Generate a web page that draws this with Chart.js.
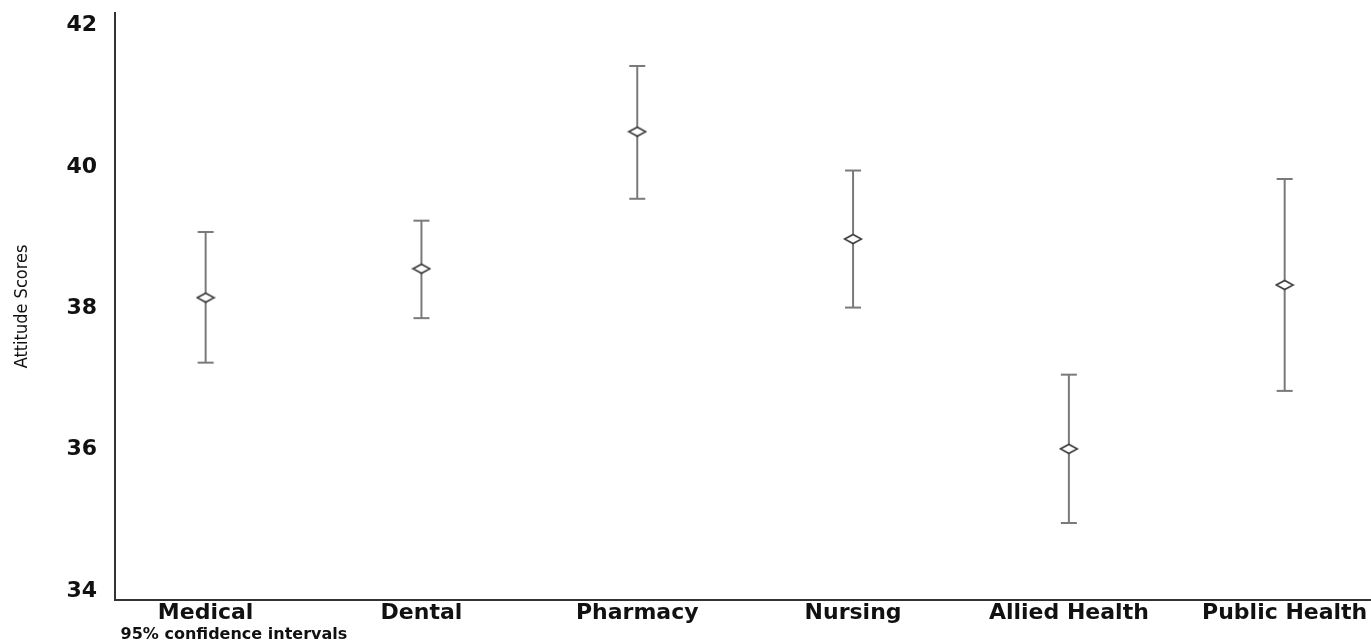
<!DOCTYPE html>
<html>
<head>
<meta charset="utf-8">
<script src="https://cdn.jsdelivr.net/npm/chart.js@4/dist/chart.umd.min.js"></script>
<style>
  body { margin: 0; background: #fff; }
  canvas { display: block; }
</style>
</head>
<body>
<canvas id="ciChart" width="1371" height="644"></canvas>
<script>
/* data */
const groups = ["Medical", "Dental", "Pharmacy", "Nursing", "Allied Health", "Public Health"];
const means = [38.15, 38.56, 40.50, 38.98, 36.01, 38.33];
const lower = [37.23, 37.86, 39.55, 38.01, 34.96, 36.83];
const upper = [39.08, 39.24, 41.43, 39.95, 37.06, 39.83];
const yTicks = [34, 36, 38, 40, 42];

const axisColor = "#333";
const barColor = "#7a7a7a";

/* flattened open diamond marker */
const diamond = document.createElement("canvas");
diamond.width = 20;
diamond.height = 12;
const dctx = diamond.getContext("2d");
dctx.beginPath();
dctx.moveTo(1.5, 6);
dctx.lineTo(10, 1.5);
dctx.lineTo(18.5, 6);
dctx.lineTo(10, 10.5);
dctx.closePath();
dctx.fillStyle = "#fff";
dctx.fill();
dctx.lineWidth = 1.6;
dctx.strokeStyle = "#3a3a3a";
dctx.stroke();

/* mean markers first so they are drawn on top */
const datasets = [{
    label: "Mean",
    data: means.map((m, i) => ({ x: i, y: m })),
    showLine: false,
    pointStyle: diamond,
    pointRadius: 8
}];

/* one whisker per group, caps come from the "line" point style */
groups.forEach((g, i) => {
    datasets.push({
        label: g + " CI",
        data: [{ x: i, y: lower[i] }, { x: i, y: upper[i] }],
        showLine: true,
        borderColor: barColor,
        borderWidth: 2,
        pointStyle: "line",
        pointRadius: 8,
        pointBorderColor: barColor,
        pointBorderWidth: 2
    });
});

new Chart(
    document.getElementById("ciChart"),
    {
        type: "scatter",

        data: { datasets: datasets },

        options: {
            responsive: false,
            animation: false,
            events: [],
            layout: {
                autoPadding: false,
                padding: { top: 13, right: 0, bottom: 0, left: 0 }
            },
            plugins: {
                legend: { display: false },
                tooltip: { enabled: false }
            },
            scales: {
                x: {
                    type: "linear",
                    min: -0.42,
                    max: 5.40,
                    afterBuildTicks: s => {
                        s.ticks = groups.map((g, i) => ({ value: i }));
                    },
                    afterFit: s => {
                        s.height = 44;
                        s.paddingLeft = 0;
                        s.paddingRight = 0;
                    },
                    grid: { drawOnChartArea: false, drawTicks: false },
                    border: { display: true, color: axisColor, width: 2 },
                    ticks: {
                        autoSkip: false,
                        maxRotation: 0,
                        padding: 0,
                        color: "#111",
                        font: { family: "DejaVu Sans", size: 22, weight: "bold" },
                        callback: v => groups[v]
                    },
                    title: {
                        display: true,
                        text: " 95% confidence intervals",
                        align: "start",
                        color: "#111",
                        padding: { top: 0, bottom: 0 },
                        font: { family: "DejaVu Sans", size: 16, weight: "bold" }
                    }
                },
                y: {
                    min: 33.87,
                    max: 42.18,
                    afterBuildTicks: s => {
                        s.ticks = yTicks.map(v => ({ value: v }));
                    },
                    afterFit: s => {
                        s.width = 115;
                        s.paddingTop = 0;
                        s.paddingBottom = 0;
                    },
                    grid: { drawOnChartArea: false, drawTicks: false },
                    border: { display: true, color: axisColor, width: 2 },
                    ticks: {
                        padding: 18,
                        color: "#111",
                        font: { family: "DejaVu Sans", size: 22, weight: "bold" }
                    },
                    title: {
                        display: true,
                        text: "Attitude Scores",
                        color: "#111",
                        padding: { top: 12, bottom: 0 },
                        font: { family: "Liberation Sans Narrow, DejaVu Sans Condensed, sans-serif", size: 18 }
                    }
                }
            }
        }
    }
);
</script>
</body>
</html>
